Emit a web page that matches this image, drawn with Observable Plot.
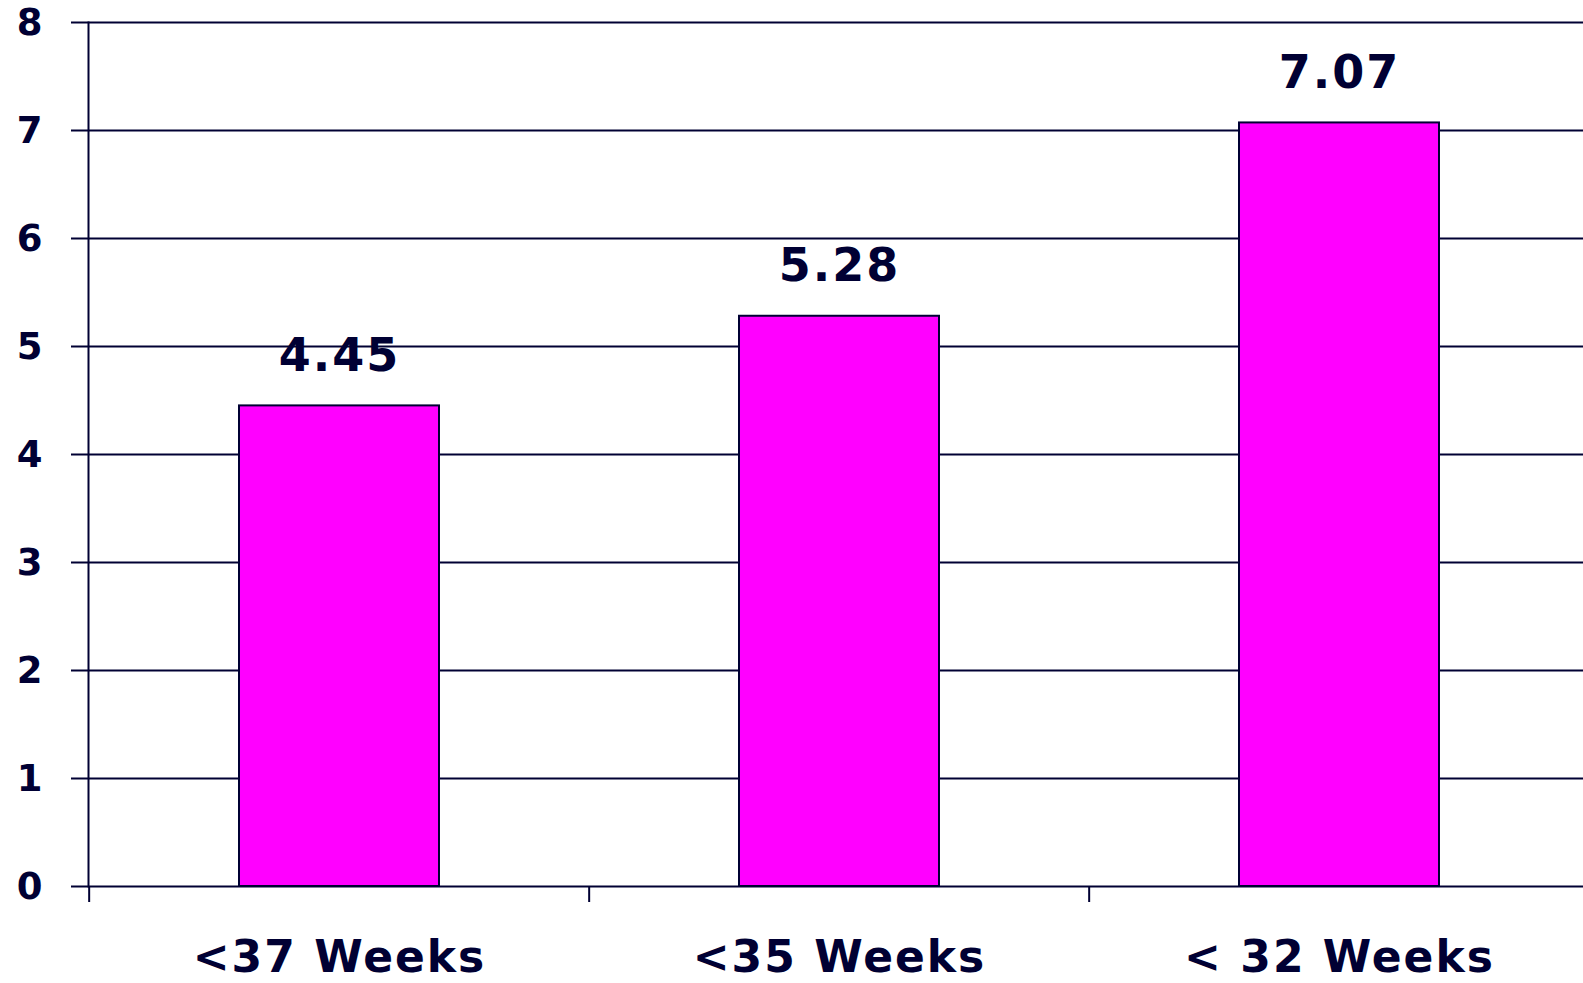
<!DOCTYPE html>
<html>
<head>
<meta charset="utf-8">
<script src="https://cdn.jsdelivr.net/npm/d3@7"></script>
<script src="https://cdn.jsdelivr.net/npm/@observablehq/plot@0.6"></script>
<style>
  html, body { margin: 0; padding: 0; background: #ffffff; overflow: hidden; }
  #chart svg { display: block; }
</style>
</head>
<body>
<div id="chart"></div>
<script>
const categories = ["<37 Weeks", "<35 Weeks", "< 32 Weeks"];
const values = [4.45, 5.28, 7.07];
const yTicks = [0, 1, 2, 3, 4, 5, 6, 7, 8];

const data = categories.map((c, i) => ({cat: c, val: values[i]}));

const ink = "#000033";
const W = 1583, H = 983;
const mL = 88, mR = -7, mT = 22, mB = 97;
const step = (W - mL - mR) / categories.length;

const chart = Plot.plot({
  width: W,
  height: H,
  marginLeft: mL,
  marginRight: mR,
  marginTop: mT,
  marginBottom: mB,
  style: {fontFamily: "'DejaVu Sans', sans-serif", fontWeight: "bold", color: ink, background: "#fff", letterSpacing: "2px"},
  x: {domain: categories, paddingInner: 0.6, paddingOuter: 0.3},
  y: {domain: [0, 8]},
  marks: [
    Plot.ruleY(yTicks, {y: d => d, stroke: ink, strokeWidth: 2, insetLeft: -17}),
    Plot.frame({anchor: "left", stroke: ink, strokeWidth: 2}),
    Plot.ruleX(categories, {x: d => d, y1: 0, y2: 0, dx: -step / 2, insetBottom: -16, stroke: ink, strokeWidth: 2}),
    Plot.barY(data, {x: "cat", y: "val", fill: "#ff00ff", stroke: ink, strokeWidth: 2}),
    Plot.text(data, {x: "cat", y: "val", text: d => d3.format(".2f")(d.val), dy: -50, fontSize: 46, fontWeight: "bold", fill: ink}),
    Plot.axisY({ticks: yTicks, tickSize: 0, tickPadding: 44, dy: 1, fontSize: 37, fontWeight: "bold", fill: ink, label: null}),
    Plot.axisX({tickSize: 0, tickPadding: 54, fontSize: 44, fontWeight: "bold", fill: ink, label: null})
  ]
});
document.getElementById("chart").appendChild(chart);
</script>
</body>
</html>
